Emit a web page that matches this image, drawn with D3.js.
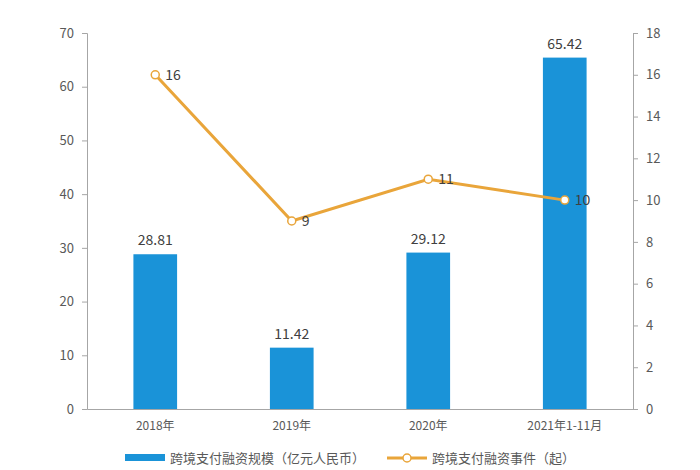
<!DOCTYPE html>
<html><head><meta charset="utf-8">
<script src="https://cdn.jsdelivr.net/npm/d3@7/dist/d3.min.js"></script>
<style>body{margin:0;background:#fff}text{font-family:"Noto Sans CJK SC","Noto Sans",sans-serif}</style>
</head><body><svg id="c" width="700" height="470"></svg>
<script>
const categories=["2018年","2019年","2020年","2021年1-11月"];
const scaleValues=[28.81,11.42,29.12,65.42];
const eventValues=[16,9,11,10];
const leftTicks=[0,10,20,30,40,50,60,70];
const rightTicks=[0,2,4,6,8,10,12,14,16,18];
const seriesNames=["跨境支付融资规模（亿元人民币）","跨境支付融资事件（起）"];

const svg=d3.select("#c");
const L=87,R=633,T=33,B=409;
const x=d3.scaleBand().domain(categories).range([L,R]).paddingInner(0.68).paddingOuter(0.34);
const yL=d3.scaleLinear().domain([0,70]).range([B,T]);
const yR=d3.scaleLinear().domain([0,18]).range([B,T]);
const barC="#1a93d8",lineC="#e9a53a",txt="#595959",ax="#a6a6a6";

const gL=svg.append("g").attr("transform",`translate(${L},0)`).call(d3.axisLeft(yL).tickValues(leftTicks).tickSize(5).tickPadding(8));
const gR=svg.append("g").attr("transform",`translate(${R},0)`).call(d3.axisRight(yR).tickValues(rightTicks).tickSize(5).tickPadding(8));
const gB=svg.append("g").attr("transform",`translate(0,${B})`).call(d3.axisBottom(x).tickSize(0).tickPadding(12));
[gL,gR,gB].forEach(g=>{g.selectAll("path,line").attr("stroke",ax);g.selectAll("text").attr("fill",txt).attr("font-size",13);});
gB.selectAll("text").attr("font-size",12);

svg.selectAll(".bar").data(scaleValues).enter().append("rect")
 .attr("x",(d,i)=>x(categories[i])).attr("width",x.bandwidth())
 .attr("y",d=>yL(d)).attr("height",d=>B-yL(d)).attr("fill",barC);
svg.selectAll(".bl").data(scaleValues).enter().append("text")
 .attr("x",(d,i)=>x(categories[i])+x.bandwidth()/2).attr("y",d=>yL(d)-9)
 .attr("text-anchor","middle").attr("font-size",14).attr("fill","#404040").text(d=>d.toFixed(2));

const cx=i=>x(categories[i])+x.bandwidth()/2;
svg.append("path").datum(eventValues).attr("fill","none").attr("stroke",lineC).attr("stroke-width",3)
 .attr("d",d3.line().x((d,i)=>cx(i)).y(d=>yR(d)));
svg.selectAll(".pt").data(eventValues).enter().append("circle")
 .attr("cx",(d,i)=>cx(i)).attr("cy",d=>yR(d)).attr("r",4).attr("fill","#fff").attr("stroke",lineC).attr("stroke-width",1.5);
svg.selectAll(".pl").data(eventValues).enter().append("text")
 .attr("x",(d,i)=>cx(i)+10).attr("y",d=>yR(d)+5).attr("font-size",14).attr("fill","#404040").text(d=>d);

const lg=svg.append("g").attr("transform","translate(0,458)");
lg.append("rect").attr("x",125).attr("y",-4).attr("width",40).attr("height",7).attr("fill",barC);
lg.append("text").attr("x",170).attr("y",5).attr("font-size",13).attr("fill",txt).text(seriesNames[0]);
lg.append("line").attr("x1",387).attr("x2",427).attr("y1",0).attr("y2",0).attr("stroke",lineC).attr("stroke-width",3);
lg.append("circle").attr("cx",407).attr("cy",0).attr("r",4).attr("fill","#fff").attr("stroke",lineC).attr("stroke-width",1.5);
lg.append("text").attr("x",432).attr("y",5).attr("font-size",13).attr("fill",txt).text(seriesNames[1]);
</script></body></html>
